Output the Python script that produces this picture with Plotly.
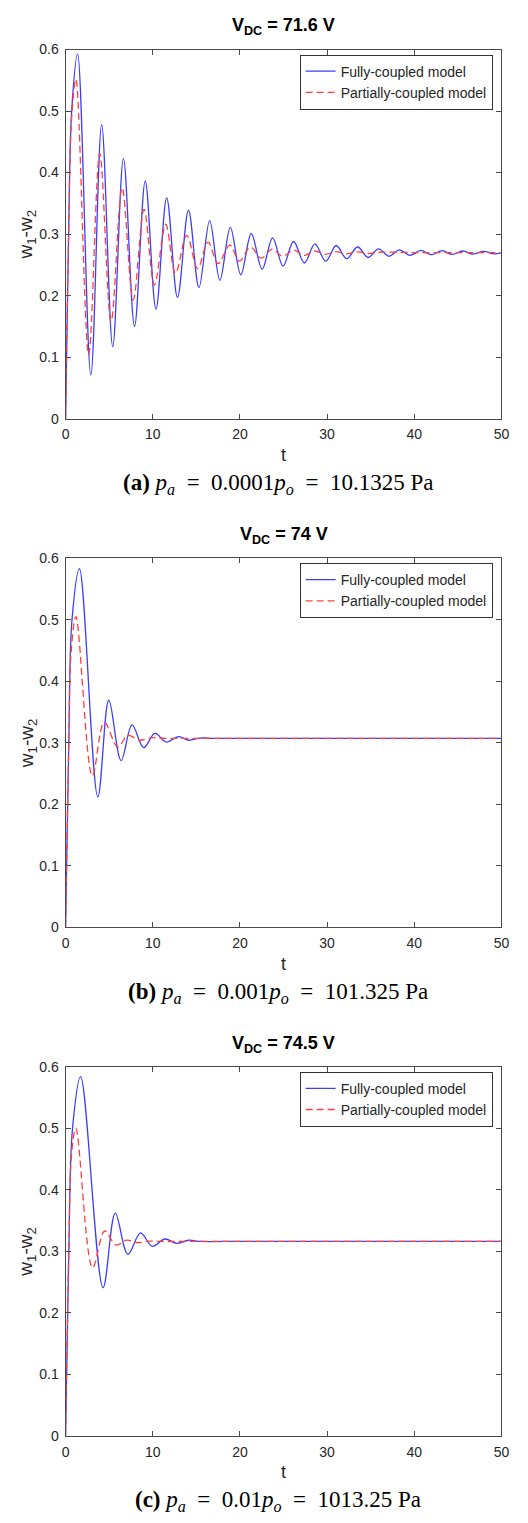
import plotly.graph_objects as go

# ---------------- data ----------------
# Panel (a): V_DC = 71.6 V
t_a_full = [0, 0.35, 0.7, 1.38, 2.9, 4.14, 5.41, 6.64, 7.91, 9.14, 10.37, 11.6, 12.84, 14.1,
            15.3, 16.53, 17.7, 18.9, 20.1, 21.3, 22.55, 23.75, 24.95, 26.15, 27.4, 28.6, 29.85,
            31.05, 32.25, 33.5, 34.7, 35.9, 37.1, 38.3, 39.5, 40.75, 41.95, 43.2, 44.35, 45.55,
            46.75, 47.95, 49.15, 50]
w_a_full = [0, 0.3, 0.5, 0.593, 0.071, 0.478, 0.117, 0.423, 0.150, 0.386, 0.178, 0.359, 0.197, 0.339,
            0.213, 0.322, 0.225, 0.311, 0.234, 0.301, 0.243, 0.294, 0.248, 0.288, 0.253, 0.284, 0.256,
            0.2815, 0.260, 0.279, 0.262, 0.276, 0.264, 0.2745, 0.2655, 0.2735, 0.2665, 0.273, 0.267, 0.2725,
            0.2675, 0.272, 0.268, 0.270]
t_a_part = [0, 0.35, 0.7, 1.19, 2.65, 3.92, 5.22, 6.49, 7.76, 9.0, 10.19, 11.49, 12.6, 13.9,
            15.15, 16.34, 17.5, 18.84, 19.96, 21.2, 22.45, 23.7, 24.9, 26.15, 27.4, 28.6, 29.8,
            31.0, 32.2, 33.5, 34.7, 36.0, 40, 45, 50]
w_a_part = [0, 0.3, 0.49, 0.552, 0.104, 0.431, 0.158, 0.375, 0.193, 0.340, 0.217, 0.316, 0.236, 0.298,
            0.244, 0.287, 0.252, 0.282, 0.256, 0.279, 0.261, 0.2755, 0.264, 0.274, 0.2655, 0.2725, 0.267,
            0.2715, 0.268, 0.271, 0.2685, 0.2705, 0.270, 0.270, 0.270]

# Panel (b): V_DC = 74 V
t_b_full = [0, 0.37, 0.74, 1.59, 3.70, 4.96, 6.37, 7.63, 8.96, 10.26, 11.56, 12.96, 14.1, 15.4,
            17, 20, 30, 40, 50]
w_b_full = [0, 0.3, 0.5, 0.583, 0.212, 0.369, 0.271, 0.329, 0.292, 0.315, 0.301, 0.310, 0.304, 0.3075,
            0.307, 0.307, 0.307, 0.307, 0.307]
t_b_part = [0, 0.37, 0.65, 1.19, 3.07, 4.44, 6.0, 7.15, 8.5, 9.8, 11.5, 15, 20, 30, 40, 50]
w_b_part = [0, 0.3, 0.45, 0.505, 0.246, 0.333, 0.293, 0.312, 0.304, 0.308, 0.307, 0.307, 0.307,
            0.307, 0.307, 0.307]

# Panel (c): V_DC = 74.5 V
t_c_full = [0, 0.37, 0.8, 1.73, 4.3, 5.7, 7.15, 8.6, 9.95, 11.4, 12.75, 14.1, 15.5, 18, 20, 30, 40, 50]
w_c_full = [0, 0.3, 0.5, 0.584, 0.241, 0.362, 0.295, 0.330, 0.308, 0.320, 0.313, 0.318, 0.316, 0.316,
            0.316, 0.316, 0.316, 0.316]
t_c_part = [0, 0.37, 0.7, 1.18, 3.1, 4.49, 5.8, 7.0, 8.3, 9.5, 11, 15, 20, 30, 40, 50]
w_c_part = [0, 0.3, 0.46, 0.500, 0.273, 0.333, 0.310, 0.318, 0.314, 0.3165, 0.316, 0.316, 0.316,
            0.316, 0.316, 0.316]

series_names = ["Fully-coupled model", "Partially-coupled model"]
panel_titles = ["V<sub>DC</sub> = 71.6 V", "V<sub>DC</sub> = 74 V", "V<sub>DC</sub> = 74.5 V"]
EQ = "&nbsp;&#8197;=&nbsp;&#8197;"
captions = [
    f"<b>(a)</b> <i>p<sub>a</sub></i>{EQ}0.0001<i>p<sub>o</sub></i>{EQ}10.1325 Pa",
    f"<b>(b)</b> <i>p<sub>a</sub></i>{EQ}0.001<i>p<sub>o</sub></i>{EQ}101.325 Pa",
    f"<b>(c)</b> <i>p<sub>a</sub></i>{EQ}0.01<i>p<sub>o</sub></i>{EQ}1013.25 Pa",
]
x_ticks = [0, 10, 20, 30, 40, 50]
y_ticks = [0, 0.1, 0.2, 0.3, 0.4, 0.5, 0.6]

panels = [
    (t_a_full, w_a_full, t_a_part, w_a_part),
    (t_b_full, w_b_full, t_b_part, w_b_part),
    (t_c_full, w_c_full, t_c_part, w_c_part),
]

# ---------------- layout (pixels) ----------------
W, H = 528, 1523
PX_L, PX_R = 63, 509
STEP = 514
TOP0, BOT0 = 42, 415

def fy(py):
    return 1 - py / H

def fx(px):
    return px / W

BLUE = "#3d3dff"
RED = "#ff4040"
AXC = "#4a4a4a"
TXT = "#262626"
SANS = "Liberation Sans, Arial, sans-serif"
SERIF = "Liberation Serif, Times New Roman, serif"

fig = go.Figure()
annotations = []
for i, (tf, wf, tp, wp) in enumerate(panels):
    off = i * STEP
    sfx = "" if i == 0 else str(i + 1)
    xa, ya = "x" + sfx, "y" + sfx
    leg = "legend" + sfx
    fig.add_trace(go.Scatter(x=tf, y=wf, mode="lines", name=series_names[0],
                             line=dict(color=BLUE, width=1.3, shape="spline", smoothing=1),
                             xaxis=xa, yaxis=ya, legend=leg))
    fig.add_trace(go.Scatter(x=tp, y=wp, mode="lines", name=series_names[1],
                             line=dict(color=RED, width=1.3, dash="7px,4px", shape="spline", smoothing=1),
                             xaxis=xa, yaxis=ya, legend=leg))
    axcommon = dict(showline=True, linecolor=AXC, linewidth=1, mirror="ticks", ticks="inside",
                    ticklen=5, tickcolor=AXC, showgrid=False, zeroline=False,
                    tickfont=dict(family=SANS, size=14, color=TXT))
    fig.update_layout(**{
        "xaxis" + sfx: dict(domain=[fx(PX_L), fx(PX_R)], range=[0, 50], tickvals=x_ticks,
                            anchor=ya, ticklabelstandoff=3, **axcommon),
        "yaxis" + sfx: dict(domain=[fy(BOT0 + off), fy(TOP0 + off)], range=[0, 0.6],
                            tickvals=y_ticks, ticktext=[f"{v:g}" for v in y_ticks],
                            anchor=xa, ticklabelstandoff=3, **axcommon),
        leg: dict(x=fx(500), y=fy(47 + off), xanchor="right", yanchor="top",
                  bgcolor="white", bordercolor="#333333", borderwidth=1,
                  font=dict(family=SANS, size=14, color=TXT), itemwidth=30,
                  tracegroupgap=0),
    })
    cx = fx((PX_L + PX_R) / 2)
    annotations += [
        dict(text="<b>" + panel_titles[i] + "</b>", x=cx, y=fy(19 + off), xref="paper", yref="paper",
             showarrow=False, font=dict(family=SANS, size=18, color="black"),
             xanchor="center", yanchor="middle"),
        dict(text="w<sub>1</sub>-w<sub>2</sub>", x=fx(24), y=fy((TOP0 + BOT0) / 2 + off),
             xref="paper", yref="paper", showarrow=False, textangle=-90,
             font=dict(family=SANS, size=19, color=TXT), xanchor="center", yanchor="middle"),
        dict(text="t", x=cx, y=fy(452 + off), xref="paper", yref="paper", showarrow=False,
             font=dict(family=SANS, size=18, color=TXT), xanchor="center", yanchor="middle"),
        dict(text=captions[i], x=fx(280), y=fy(481 + off), xref="paper", yref="paper", showarrow=False,
             font=dict(family=SERIF, size=23, color="black"), xanchor="center", yanchor="middle"),
    ]

fig.update_layout(width=W, height=H, margin=dict(l=0, r=0, t=0, b=0, pad=0),
                  paper_bgcolor="white", plot_bgcolor="white", showlegend=True,
                  annotations=annotations)
fig.write_html("out.html")
